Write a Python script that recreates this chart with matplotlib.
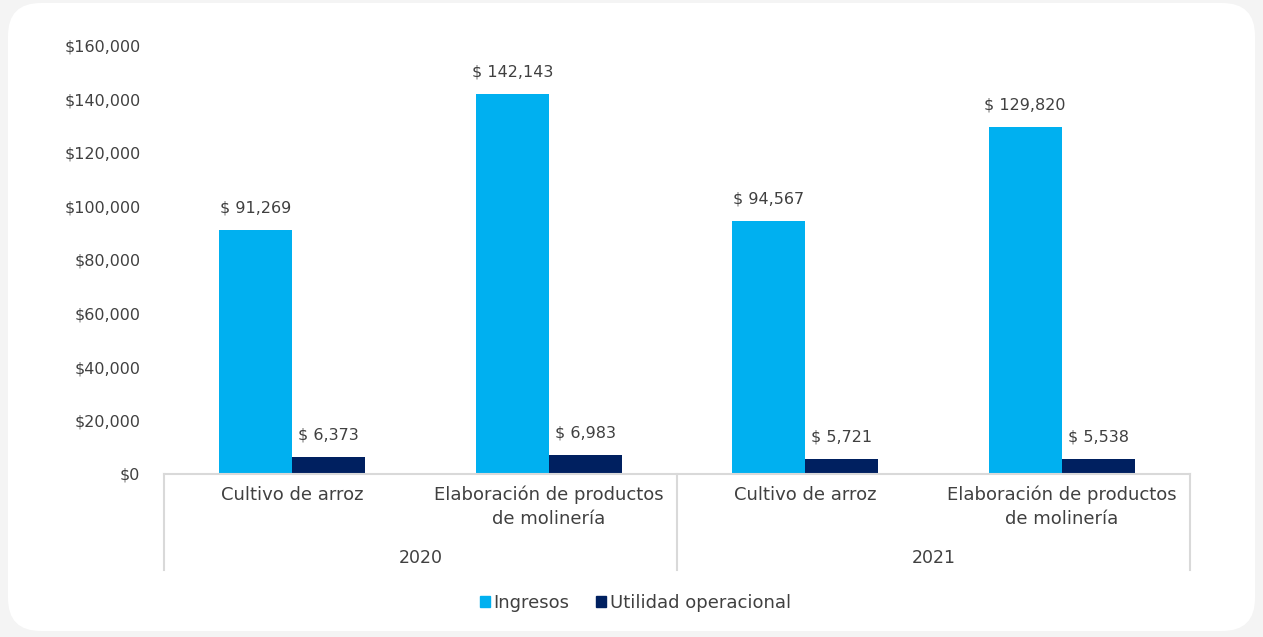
import matplotlib.pyplot as plt
import matplotlib.patches as mpatches
from matplotlib.patches import FancyBboxPatch
import numpy as np

plt.rcParams['font.family'] = ['DejaVu Sans']

#Data
years = ['2020', '2021']
categories = ['Cultivo de arroz', 'Elaboración de productos\nde molinería',
              'Cultivo de arroz', 'Elaboración de productos\nde molinería']
ingresos = [91269, 142143, 94567, 129820]
utilidad = [6373, 6983, 5721, 5538]
series_names = ['Ingresos', 'Utilidad operacional']
colors = ['#00B0F0', '#002060']
txt = '#404040'

fig = plt.figure(figsize=(12.63, 6.37), dpi=100)
fig.patch.set_facecolor('#f4f4f4')

#white card
card = FancyBboxPatch((8/1263, 6/637), 1247/1263, 628/637,
                      boxstyle="round,pad=0,rounding_size=0.026",
                      transform=fig.transFigure, facecolor='white', edgecolor='none',
                      mutation_aspect=1263/637, zorder=-10)
fig.patches.append(card)

ax = fig.add_axes([164/1263, 1-474/637, (1190-164)/1263, (474-46)/637])
ax.set_facecolor('none')

x = np.arange(len(categories))
w = 0.285
b1 = ax.bar(x - w/2, ingresos, w, color=colors[0], label=series_names[0])
b2 = ax.bar(x + w/2, utilidad, w, color=colors[1], label=series_names[1])

for bars in (b1, b2):
    for r in bars:
        ax.annotate('$ {:,.0f}'.format(r.get_height()), (r.get_x()+r.get_width()/2, r.get_height()),
                    xytext=(0, 10.5), textcoords='offset points', ha='center', va='bottom',
                    fontsize=11.5, color=txt)

ax.set_xlim(-0.5, len(categories)-0.5)
ax.set_ylim(0, 160000)
ax.set_yticks(np.arange(0, 160001, 20000))
ax.set_yticklabels(['${:,.0f}'.format(v) for v in np.arange(0, 160001, 20000)])
ax.tick_params(axis='y', length=0, labelsize=11.5, labelcolor=txt, pad=17)
ax.set_xticks([])
for s in ['top', 'right', 'left']:
    ax.spines[s].set_visible(False)
ax.spines['bottom'].set_color('#d9d9d9')
ax.spines['bottom'].set_linewidth(1.5)

#category labels
trans = ax.get_xaxis_transform()
for i, c in enumerate(categories):
    ax.text(x[i], -0.028, c, transform=trans, ha='center', va='top', fontsize=13,
            color=txt, linespacing=1.4)
for j, yr in enumerate(years):
    ax.text(0.5 + 2*j, -0.175, yr, transform=trans, ha='center', va='top', fontsize=12.5, color=txt)
for xv in [-0.5, 1.5, 3.5]:
    ax.plot([xv, xv], [0, -0.225], transform=trans, color='#d9d9d9', lw=1.5, clip_on=False)

handles = [mpatches.Patch(color=colors[0]), mpatches.Patch(color=colors[1])]
fig.legend(handles, series_names, loc='center', bbox_to_anchor=(0.503, 1-603/637), ncol=2,
           frameon=False, fontsize=13, labelcolor=txt, handlelength=0.55, handleheight=0.55,
           handletextpad=0.2, columnspacing=1.5)

fig.savefig('out.png', dpi=100, facecolor=fig.get_facecolor())
